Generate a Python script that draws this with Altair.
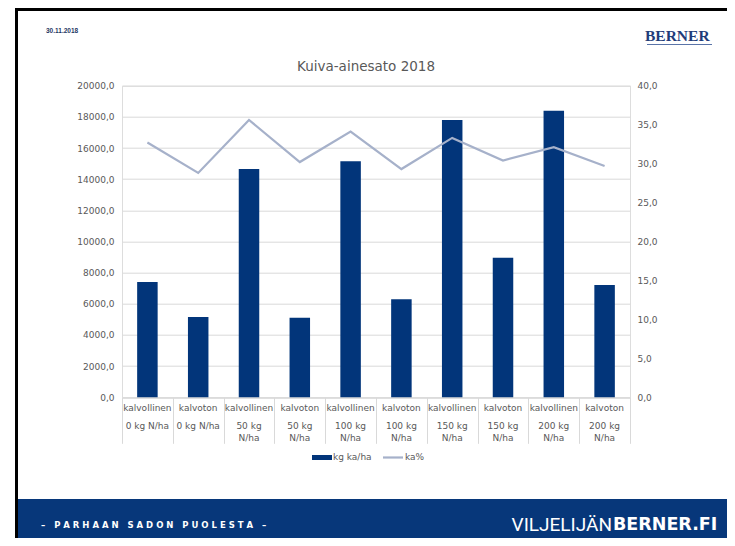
import altair as alt
import pandas as pd

# ---- data ----
types = ["kalvollinen", "kalvoton"] * 5
n_levels = ["0 kg N/ha", "0 kg N/ha", "50 kg\nN/ha", "50 kg\nN/ha", "100 kg\nN/ha",
            "100 kg\nN/ha", "150 kg\nN/ha", "150 kg\nN/ha", "200 kg\nN/ha", "200 kg\nN/ha"]
kg_ka_ha = [7400, 5150, 14650, 5100, 15150, 6300, 17800, 8950, 18400, 7200]
ka_pct = [32.7, 28.8, 35.6, 30.2, 34.1, 29.3, 33.3, 30.4, 32.1, 29.7]
left_ticks = [0, 2000, 4000, 6000, 8000, 10000, 12000, 14000, 16000, 18000, 20000]
right_ticks = [0, 5, 10, 15, 20, 25, 30, 35, 40]
series_names = ["kg ka/ha", "ka%"]
title_text = "Kuiva-ainesato 2018"
date_text = "30.11.2018"
logo_text = "BERNER"
NB = "\u00a0"
slogan_words = ["–", "PARHAAN", "SADON", "PUOLESTA", "–"]
slogan_text = (NB * 3).join(NB.join(w) for w in slogan_words)
site_light = "VILJELIJÄN"
site_bold = "BERNER.FI"

cats = [f"{t} {n.replace(chr(10), ' ')}" for t, n in zip(types, n_levels)]
df = pd.DataFrame({"cat": cats, "type": types, "level": n_levels,
                   "kg": kg_ka_ha, "pct": ka_pct})
one = pd.DataFrame({"d": [0]})

BAR = "#02357a"
LINE = "#a6b1ca"
GRAY = "#595959"
GRID = "#d9d9d9"
NAVY = "#07377a"
FONT = "DejaVu Sans"

# plot area placement (page coords): x 122..630, y 85.7..397.3
PW, PH = 508, 311.6
OX, OY = 122, 85.7
PAGE_W, PAGE_H = 727, 538


def px(x):
    return x - OX


def py(y):
    return y - OY


label_expr = "replace(format(datum.value, '.1f'), '.', ',')"

x_enc = alt.X("cat:N", sort=cats, title=None,
              scale=alt.Scale(paddingInner=0, paddingOuter=0),
              axis=alt.Axis(labels=False, domainColor=GRID, tickColor=GRID,
                            tickBand="extent", tickSize=46, grid=False))

bars = alt.Chart(df).mark_bar(width=20.5, color=BAR).encode(
    x=x_enc,
    y=alt.Y("kg:Q", title=None,
            scale=alt.Scale(domain=[0, 20000], nice=False),
            axis=alt.Axis(values=left_ticks, labelExpr=label_expr, grid=True,
                          gridColor=GRID, domain=False, ticks=False,
                          labelPadding=8, labelFontSize=9, labelColor=GRAY,
                          labelFont=FONT)))

line = alt.Chart(df).mark_line(color=LINE, strokeWidth=2.2).encode(
    x=x_enc,
    y=alt.Y("pct:Q", title=None,
            scale=alt.Scale(domain=[0, 40], nice=False),
            axis=alt.Axis(orient="right", values=right_ticks, labelExpr=label_expr,
                          grid=False, domain=False, ticks=False, labelPadding=7,
                          labelFontSize=9, labelColor=GRAY, labelFont=FONT)))

row1 = alt.Chart(df).mark_text(fontSize=9, color=GRAY, font=FONT, baseline="middle").encode(
    x=x_enc, y=alt.value(py(408)), text="type:N")
row2 = alt.Chart(df).mark_text(fontSize=9, color=GRAY, font=FONT, baseline="top",
                               lineBreak="\n", lineHeight=12).encode(
    x=x_enc, y=alt.value(py(422)), text="level:N")

title = alt.Chart(one).mark_text(text=title_text, fontSize=13.5, color=GRAY, font=FONT,
                                 baseline="middle").encode(
    x=alt.value(px(366)), y=alt.value(py(67)))

# legend
leg_rect = alt.Chart(one).mark_rect(color=BAR).encode(
    x=alt.value(px(312)), x2=alt.value(px(332)), y=alt.value(py(455)), y2=alt.value(py(460)))
leg_t1 = alt.Chart(one).mark_text(text=series_names[0], fontSize=9, color=GRAY, font=FONT,
                                  align="left", baseline="middle").encode(
    x=alt.value(px(333)), y=alt.value(py(457)))
leg_line = alt.Chart(one).mark_rule(color=LINE, strokeWidth=2.2).encode(
    x=alt.value(px(383)), x2=alt.value(px(403)), y=alt.value(py(457.5)))
leg_t2 = alt.Chart(one).mark_text(text=series_names[1], fontSize=9, color=GRAY, font=FONT,
                                  align="left", baseline="middle").encode(
    x=alt.value(px(405)), y=alt.value(py(457)))

# slide decorations
border_left = alt.Chart(one).mark_rule(color="black", strokeWidth=3).encode(
    x=alt.value(px(16.5)), y=alt.value(py(8)), y2=alt.value(py(PAGE_H + 8)))
border_top = alt.Chart(one).mark_rule(color="black", strokeWidth=3).encode(
    x=alt.value(px(15)), x2=alt.value(px(PAGE_W + 8)), y=alt.value(py(9.5)))
footer = alt.Chart(one).mark_rect(color=NAVY).encode(
    x=alt.value(px(18)), x2=alt.value(px(PAGE_W + 8)), y=alt.value(py(499)),
    y2=alt.value(py(PAGE_H + 8)))
date = alt.Chart(one).mark_text(text=date_text, fontSize=6.5, fontWeight="bold",
                                color="#1f3864", font="Liberation Sans", align="left",
                                baseline="middle").encode(
    x=alt.value(px(46)), y=alt.value(py(31)))
logo = alt.Chart(one).mark_text(text=logo_text, fontSize=15.5, fontWeight="bold",
                                color="#1f3c7a", font="Liberation Serif", align="left",
                                baseline="middle").encode(
    x=alt.value(px(645)), y=alt.value(py(36.5)))
swoosh = alt.Chart(one).mark_rule(color="#5a74a8", strokeWidth=1.2).encode(
    x=alt.value(px(647)), x2=alt.value(px(712)), y=alt.value(py(44.5)))
slogan = alt.Chart(one).mark_text(text=slogan_text, fontSize=8.5, fontWeight="bold",
                                  color="white", font=FONT, align="left",
                                  baseline="middle").encode(
    x=alt.value(px(41)), y=alt.value(py(525)))
site1 = alt.Chart(one).mark_text(text=site_light, fontSize=19, color="white",
                                 font="Roboto", align="right",
                                 baseline="middle").encode(
    x=alt.value(px(612)), y=alt.value(py(525)))
site2 = alt.Chart(one).mark_text(text=site_bold, fontSize=17.5, fontWeight="bold",
                                 color="white", font="DejaVu Sans", align="left",
                                 baseline="middle").encode(
    x=alt.value(px(613)), y=alt.value(py(525)))

chart = alt.layer(
    footer, border_left, border_top, bars, line, row1, row2, title,
    leg_rect, leg_t1, leg_line, leg_t2, date, logo, swoosh, slogan, site1, site2
).resolve_scale(y="independent").properties(
    width=PW, height=PH,
    autosize=alt.AutoSizeParams(type="none"),
    padding={"left": OX - 8, "top": OY - 8, "right": PAGE_W - 8 - (OX - 8) - PW,
             "bottom": PAGE_H - 8 - (OY - 8) - PH},
).configure_view(stroke=None).configure(background="white")

chart.save("out.html", embed_options={"renderer": "svg", "actions": False})
